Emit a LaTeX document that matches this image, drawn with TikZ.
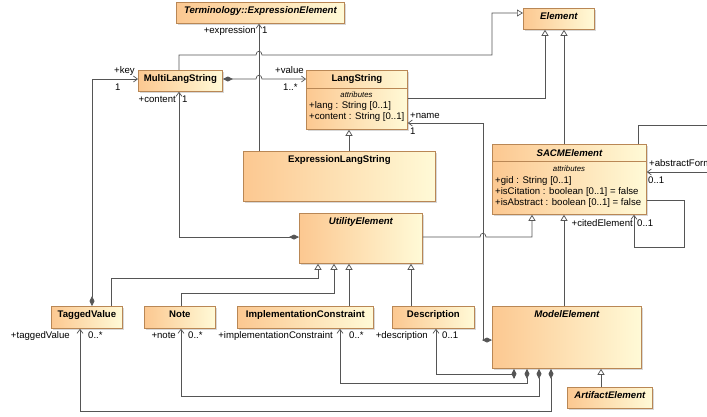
\documentclass[tikz,border=0pt]{standalone}
\usepackage{fontspec}
\setmainfont{Liberation Sans}
\usetikzlibrary{arrows.meta,shadows,calc}
\definecolor{boxL}{RGB}{252,200,145}
\definecolor{boxR}{RGB}{255,250,215}
\definecolor{boxB}{RGB}{185,135,85}
\definecolor{lineC}{RGB}{85,85,85}
\begin{document}
\begin{tikzpicture}[x=1pt,y=-1pt,
  umlbox/.style={draw=boxB, line width=0.8pt, left color=boxL, right color=boxR, anchor=north west, inner sep=0pt, drop shadow={shadow xshift=1.5pt,shadow yshift=-1.5pt,fill=black!30}},
  ttl/.style={anchor=base, inner sep=0pt, font=\fontsize{9.6}{11}\selectfont\bfseries},
  attl/.style={anchor=base, inner sep=0pt, font=\fontsize{9.6}{11}\selectfont\bfseries\itshape},
  attrhead/.style={anchor=base, inner sep=0pt, font=\fontsize{7.8}{9}\selectfont\itshape},
  attr/.style={anchor=base west, inner sep=0pt, font=\fontsize{9.6}{11}\selectfont},
  lbl/.style={anchor=base west, inner sep=0pt, font=\fontsize{9.6}{11}\selectfont},
  lblr/.style={anchor=base east, inner sep=0pt, font=\fontsize{9.6}{11}\selectfont},
  sep/.style={draw=boxB, line width=0.8pt},
  conn/.style={draw=lineC, line width=0.7pt},
  gen/.style={conn, -{Triangle[length=6pt,width=7pt,fill=white]}},
  assoc/.style={conn, -{Straight Barb[length=4pt,width=6pt]}},
  comp/.style={conn, {Diamond[length=10pt,width=5pt,fill=lineC]}-{Straight Barb[length=4pt,width=6pt]}}
]
\useasboundingbox (0,0) rectangle (707,416);

% boxes
\node[umlbox, minimum width=168pt, minimum height=21pt] (ee) at (176,2) {};
\node[attl] (eeT) at ([yshift=-11pt]ee.north) {Terminology::ExpressionElement};

\node[umlbox, minimum width=71pt, minimum height=21pt] (el) at (523,8) {};
\node[attl] (elT) at ([yshift=-11pt]el.north) {Element};

\node[umlbox, minimum width=84pt, minimum height=21pt] (mls) at (138,70) {};
\node[ttl] (mlsT) at ([yshift=-11.5pt]mls.north) {MultiLangString};

\node[umlbox, minimum width=101pt, minimum height=59pt] (ls) at (306,70) {};
\node[ttl] (lsT) at ([yshift=-11pt]ls.north) {LangString};
\draw[sep] ([yshift=-18pt]ls.north west) -- ([yshift=-18pt]ls.north east);
\node[attrhead] (lsA) at (356.5,97) {attributes};
\node[attr] (lsA1) at (309,108.5) {+lang : String [0..1]};
\node[attr] (lsA2) at (309,119.5) {+content : String [0..1]};

\node[umlbox, minimum width=192pt, minimum height=50pt] (els) at (243,151) {};
\node[ttl] (elsT) at ([yshift=-11pt]els.north) {ExpressionLangString};

\node[umlbox, minimum width=123pt, minimum height=50pt] (ue) at (299,213) {};
\node[attl] (ueT) at ([yshift=-11pt]ue.north) {UtilityElement};

\node[umlbox, minimum width=154pt, minimum height=70pt] (sacm) at (492,144) {};
\node[attl] (sacmT) at ([yshift=-12pt]sacm.north) {SACMElement};
\draw[sep] ([yshift=-17pt]sacm.north west) -- ([yshift=-17pt]sacm.north east);
\node[attrhead] (sacmA) at (569,171) {attributes};
\node[attr] (sacmA1) at (495,183) {+gid : String [0..1]};
\node[attr] (sacmA2) at (495,194.5) {+isCitation : boolean [0..1] = false};
\node[attr] (sacmA3) at (495,205.5) {+isAbstract : boolean [0..1] = false};

\node[umlbox, minimum width=71pt, minimum height=22pt] (tv) at (51,306) {};
\node[ttl] (tvT) at ([yshift=-11pt]tv.north) {TaggedValue};

\node[umlbox, minimum width=71pt, minimum height=22pt] (note) at (144,306) {};
\node[ttl] (noteT) at ([yshift=-11pt]note.north) {Note};

\node[umlbox, minimum width=136pt, minimum height=22pt] (ic) at (237,306) {};
\node[ttl] (icT) at ([yshift=-11pt]ic.north) {ImplementationConstraint};

\node[umlbox, minimum width=82pt, minimum height=22pt] (desc) at (392,306) {};
\node[ttl] (descT) at ([yshift=-11pt]desc.north) {Description};

\node[umlbox, minimum width=149pt, minimum height=62pt] (me) at (492,306) {};
\node[attl] (meT) at ([yshift=-11pt]me.north) {ModelElement};

\node[umlbox, minimum width=85pt, minimum height=21pt] (ae) at (567,387) {};
\node[attl] (aeT) at ([yshift=-11pt]ae.north) {ArtifactElement};

% connectors
\draw[assoc] ([xshift=16pt]els.north west) -- ([xshift=83pt]ee.south west);
\draw[gen] ([xshift=41pt]mls.north west) |- (256,55) .. controls (256,50) and (262,50) .. (262,55) -| (492,13) -- ([yshift=-5pt]el.north west);
\draw[comp] ([yshift=-9pt]mls.north east) -- (256,79) .. controls (256,74) and (262,74) .. (262,79) -- ([yshift=-9pt]ls.north west);
\draw[gen] ([yshift=-28pt]ls.north east) -| ([xshift=22pt]el.south west);
\draw[gen] ([xshift=72pt]sacm.north west) -- ([xshift=41pt]el.south west);
\draw[gen] ([xshift=106pt]els.north west) -- ([xshift=43pt]ls.south west);
\draw[comp] ([yshift=-34pt]me.north west) -| (483,123) -- ([yshift=-53pt]ls.north east);
\draw[gen] ([yshift=-24pt]ue.north east) -- (480,237) .. controls (480,232) and (486,232) .. (486,237) -| ([xshift=40pt]sacm.south west);
\draw[gen] ([xshift=72pt]me.north west) -- ([xshift=72pt]sacm.south west);
\draw[assoc] ([xshift=146pt]sacm.north west) |- (715,125) |- ([yshift=-28pt]sacm.north east);
\draw[assoc] ([yshift=-56pt]sacm.north east) -| (684,247) -| ([xshift=142pt]sacm.south west);
\draw[comp] ([yshift=-24pt]ue.north west) -| ([xshift=41pt]mls.south west);
\draw[comp] ([xshift=41pt]tv.north west) |- ([yshift=-9pt]mls.north west);
\draw[gen] ([xshift=60pt]tv.north west) |- (318,278) -- ([xshift=19pt]ue.south west);
\draw[gen] ([xshift=37pt]note.north west) |- (334,293) -- ([xshift=35pt]ue.south west);
\draw[gen] ([xshift=112pt]ic.north west) -- ([xshift=50pt]ue.south west);
\draw[gen] ([xshift=19pt]desc.north west) -- ([xshift=112pt]ue.south west);
\draw[comp] ([xshift=22pt]me.south west) |- (436,374) -- ([xshift=44pt]desc.south west);
\draw[comp] ([xshift=35pt]me.south west) |- (340,383) -- ([xshift=103pt]ic.south west);
\draw[comp] ([xshift=47pt]me.south west) |- (181,396) -- ([xshift=37pt]note.south west);
\draw[comp] ([xshift=59pt]me.south west) |- (80,411) -- ([xshift=29pt]tv.south west);
\draw[gen] ([xshift=34pt]ae.north west) -- ([xshift=109pt]me.south west);

% labels
\node[lblr] (lexp) at (256,33.5) {+expression};
\node[lbl] (lexpm) at (262,33.5) {1};
\node[lbl] (lkey) at (114,73.5) {+key};
\node[lbl] (lkeym) at (115,90.5) {1};
\node[lblr] (lcont) at (176,102) {+content};
\node[lbl] (lcontm) at (182,102) {1};
\node[lbl] (lval) at (275,73.5) {+value};
\node[lbl] (lvalm) at (283,90.5) {1..*};
\node[lbl] (lname) at (410,118) {+name};
\node[lbl] (lnamem) at (410,134) {1};
\node[lbl] (labs) at (649,166) {+abstractForm};
\node[lbl] (labsm) at (648,183) {0..1};
\node[lblr] (lcit) at (633,226) {+citedElement};
\node[lbl] (lcitm) at (637,226) {0..1};
\node[lblr] (ltv) at (70,338.5) {+taggedValue};
\node[lbl] (ltvm) at (88,338.5) {0..*};
\node[lblr] (lnote) at (176,338.5) {+note};
\node[lbl] (lnotem) at (188,338.5) {0..*};
\node[lblr] (lic) at (333,338.5) {+implementationConstraint};
\node[lbl] (licm) at (349,338.5) {0..*};
\node[lblr] (ldesc) at (428,338.5) {+description};
\node[lbl] (ldescm) at (442,338.5) {0..1};
\end{tikzpicture}
\end{document}
